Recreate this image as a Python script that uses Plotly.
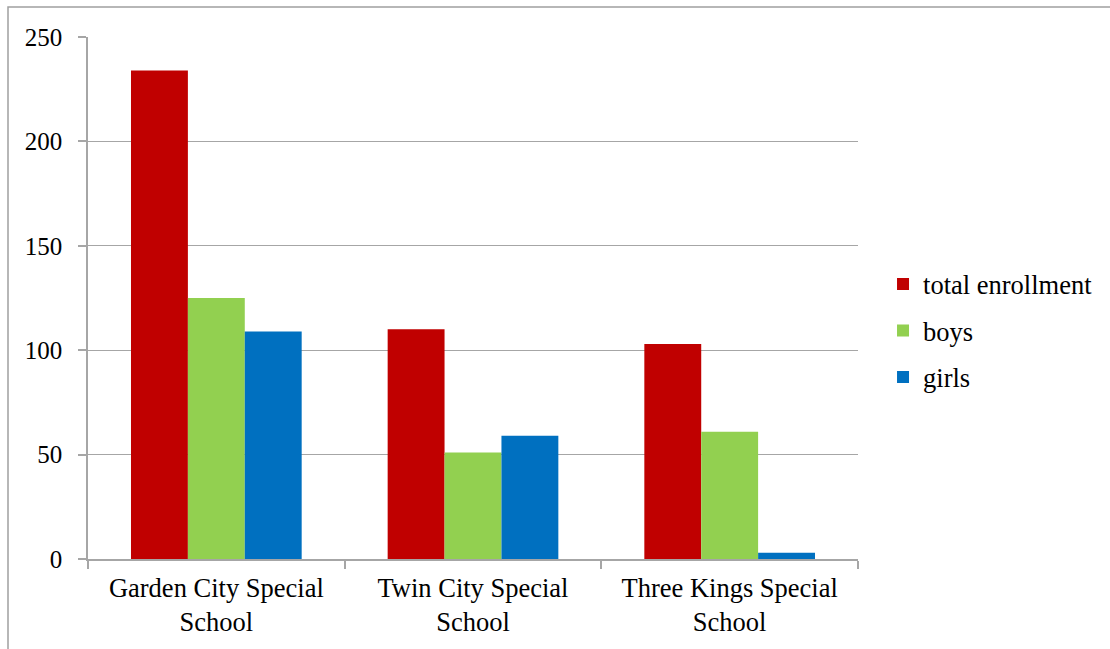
import plotly.graph_objects as go

categories = ["Garden City Special<br>School", "Twin City Special<br>School", "Three Kings Special<br>School"]
series_names = ["total enrollment", "boys", "girls"]
total_enrollment = [234, 110, 103]
boys = [125, 51, 61]
girls = [109, 59, 3]
colors = ["#C00000", "#92D050", "#0070C0"]
y_ticks = [0, 50, 100, 150, 200, 250]

W, H = 1110, 649
L, R, T, B = 88, 252, 37, 90
FAM = "Liberation Serif"

fig = go.Figure()
for i, (name, vals) in enumerate(zip(series_names, [total_enrollment, boys, girls])):
    fig.add_trace(go.Bar(x=categories, y=vals, name=name, marker_color=colors[i],
                         marker_line_width=0, legendgroup=name))

grid = "#A6A6A6"
fig.update_layout(
    width=W, height=H,
    margin=dict(l=L, r=R, t=T, b=B),
    paper_bgcolor="white", plot_bgcolor="white",
    font=dict(family=FAM, size=26.5, color="black"),
    barmode="group", bargap=0.335, bargroupgap=0,
    showlegend=True,
    legend=dict(x=1.0325, y=0.437, xanchor="left", yanchor="middle",
                font=dict(family=FAM, size=26.5, color="black"), tracegroupgap=9,
                traceorder="grouped", itemclick=False),
    xaxis=dict(showline=True, linecolor=grid, linewidth=1.5, ticks="outside",
               tickson="boundaries", ticklen=8, tickcolor=grid, tickwidth=1.5,
               showgrid=False, tickfont=dict(family=FAM, size=26.5, color="black"),
               ticklabelstandoff=4),
    yaxis=dict(range=[0, 250], tickvals=y_ticks, showline=True, linecolor=grid,
               linewidth=1.5, ticks="outside", ticklen=8, tickcolor=grid, tickwidth=1.5,
               showgrid=True, gridcolor=grid, gridwidth=1, zeroline=False,
               ticklabelstandoff=11, tickfont=dict(family=FAM, size=25, color="black")),
)

pw = W - L - R
ph = H - T - B
fig.add_shape(type="rect", xref="paper", yref="paper",
              x0=(8 - L) / pw, x1=2, y0=-1, y1=(H - B - 7) / ph,
              line=dict(color="#A0A0A0", width=1.5), fillcolor="rgba(0,0,0,0)", layer="below")

fig.write_html("out.html")
